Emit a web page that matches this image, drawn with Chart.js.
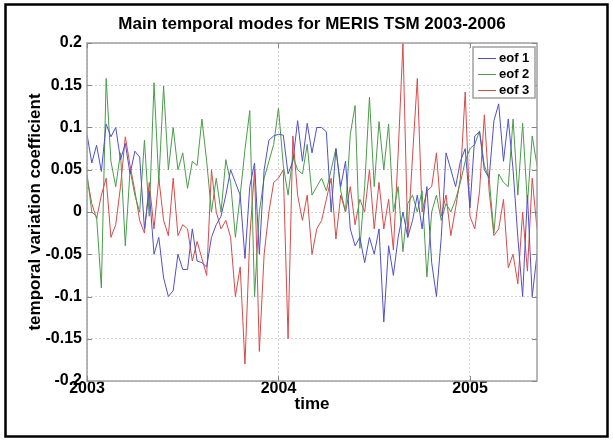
<!DOCTYPE html>
<html>
<head>
<meta charset="utf-8">
<script src="https://cdn.jsdelivr.net/npm/chart.js@4.4.0/dist/chart.umd.min.js"></script>
<style>
  html, body { margin: 0; padding: 0; background: #fff; }
  canvas { display: block; }
</style>
</head>
<body>
<canvas id="eof-chart" width="613" height="441"></canvas>
<script>
// time axis in decimal years
const timeYears = [
  2003.000, 2003.025, 2003.050, 2003.075, 2003.100, 2003.125, 2003.150, 2003.175, 2003.200, 2003.225,
  2003.250, 2003.275, 2003.300, 2003.325, 2003.350, 2003.375, 2003.400, 2003.425, 2003.450, 2003.475,
  2003.500, 2003.525, 2003.550, 2003.575, 2003.600, 2003.625, 2003.650, 2003.675, 2003.700, 2003.725,
  2003.750, 2003.775, 2003.800, 2003.825, 2003.850, 2003.875, 2003.900, 2003.925, 2003.950, 2003.975,
  2004.000, 2004.025, 2004.050, 2004.075, 2004.100, 2004.125, 2004.150, 2004.175, 2004.200, 2004.225,
  2004.250, 2004.275, 2004.300, 2004.325, 2004.350, 2004.375, 2004.400, 2004.425, 2004.450, 2004.475,
  2004.500, 2004.525, 2004.550, 2004.575, 2004.600, 2004.625, 2004.650, 2004.675, 2004.700, 2004.725,
  2004.750, 2004.775, 2004.800, 2004.825, 2004.850, 2004.875, 2004.900, 2004.925, 2004.950, 2004.975,
  2005.000, 2005.025, 2005.050, 2005.075, 2005.100, 2005.125, 2005.150, 2005.175, 2005.200, 2005.225,
  2005.250, 2005.275, 2005.300, 2005.325, 2005.350
];

const eof1 = [
  0.092, 0.058, 0.079, 0.048, 0.104, 0.089, 0.1, 0.062, 0.081, 0.045, 0.072, 0.065,
  -0.02, 0.025, -0.05, -0.03, -0.078, -0.1, -0.093, -0.05, -0.068, -0.068, -0.02, -0.058,
  -0.06, -0.065, -0.03, -0.015, -0.005, 0.02, 0.05, 0.035, 0.02, -0.055, 0.03, 0.058,
  -0.05, 0.05, 0.085, 0.09, 0.092, 0.091, 0.045, 0.06, 0.108, 0.06, 0.105, 0.07, 0.1,
  0.1, 0.095, 0.0, 0.075, 0.03, 0.06, -0.02, -0.04, -0.03, -0.06, -0.03, -0.05,
  -0.02, -0.13, -0.04, -0.075, -0.03, 0.0, -0.03, -0.01, 0.02, -0.02, 0.03, -0.06,
  -0.1, -0.03, 0.07, 0.05, 0.03, 0.06, 0.075, 0.005, 0.09, 0.095, 0.05, 0.04,
  0.108, 0.128, 0.06, 0.11, 0.05, -0.03, -0.1, 0.02, -0.1, -0.05
];

const eof2 = [
  0.045, 0.0, -0.005, -0.09, 0.158, 0.06, 0.03, 0.07, -0.04, 0.05, 0.02, 0.0,
  0.085, -0.005, 0.153, 0.035, 0.149, 0.05, 0.1, 0.05, 0.07, 0.028, 0.06, 0.055,
  0.11, 0.06, 0.0, 0.04, 0.0, 0.062, 0.035, -0.03, 0.02, 0.074, 0.12, -0.1,
  0.0, 0.04, 0.06, 0.08, 0.123, 0.055, 0.02, 0.066, 0.05, 0.045, 0.08, 0.02, 0.03,
  0.04, 0.025, 0.05, 0.075, 0.025, 0.0, 0.092, 0.126, -0.043, 0.03, 0.136, 0.03,
  0.107, 0.05, 0.104, 0.0, 0.03, -0.047, 0.01, 0.02, 0.0, 0.025, -0.077, 0.0,
  0.02, -0.01, 0.01, 0.0, 0.015, 0.035, 0.06, 0.075, 0.08, 0.096, 0.055, 0.04,
  -0.025, 0.045, 0.035, 0.03, 0.11, 0.02, 0.105, 0.01, 0.09, 0.055
];

const eof3 = [
  0.041, 0.01, -0.008, 0.02, 0.04, -0.03, -0.015, 0.03, 0.089, 0.055, 0.025, -0.01,
  -0.025, 0.035, -0.02, 0.04, -0.01, -0.028, 0.04, -0.028, -0.015, -0.02, -0.058, -0.035,
  -0.055, -0.075, 0.05, 0.0, -0.02, -0.01, -0.03, -0.1, -0.065, -0.18, -0.03, 0.05,
  -0.165, -0.05, 0.0, 0.035, 0.04, 0.05, -0.15, 0.09, 0.02, -0.01, 0.02, -0.05, -0.02,
  -0.01, 0.015, 0.04, -0.032, 0.02, 0.0, 0.03, -0.015, 0.015, 0.0, 0.05, -0.02,
  0.035, -0.02, 0.015, -0.045, 0.07, 0.2, -0.03, 0.066, 0.158, 0.0, 0.025, 0.03,
  0.07, -0.005, 0.02, -0.028, 0.005, 0.04, 0.142, -0.005, -0.02, 0.025, 0.115, 0.025,
  -0.028, -0.02, 0.015, -0.066, -0.05, -0.085, 0.0, -0.07, 0.04, -0.02
];

const seriesNames = ["eof 1", "eof 2", "eof 3"];
const seriesColors = ["rgb(80,80,200)", "rgb(75,155,75)", "rgb(215,75,75)"];
const xTickYears = [2003, 2004, 2005];
const yTickValues = [0.2, 0.15, 0.1, 0.05, 0, -0.05, -0.1, -0.15, -0.2];
const yTickLabels = ["0.2", "0.15", "0.1", "0.05", "0", "-0.05", "-0.1", "-0.15", "-0.2"];
const chartTitle = "Main temporal modes for MERIS TSM 2003-2006";

const FONT = "'Liberation Sans', Arial, Helvetica, sans-serif";
const boxGray = "#a0a0a0";

function toPoints(vals) {
  return vals.map((v, i) => ({ x: timeYears[i], y: v }));
}

// MATLAB-like axes box, inward ticks, title over the axes, legend and outer frame
const matlabBits = {
  id: "matlabBits",
  afterDatasetsDraw(chart) {
    const { ctx, chartArea: a, scales } = chart;
    ctx.save();
    ctx.strokeStyle = boxGray;
    ctx.lineWidth = 1.5;
    ctx.strokeRect(a.left, a.top, a.right - a.left, a.bottom - a.top);
    ctx.lineWidth = 1;
    ctx.strokeStyle = "#888";
    ctx.beginPath();
    xTickYears.forEach(v => {
      const px = Math.round(scales.x.getPixelForValue(v)) + 0.5;
      ctx.moveTo(px, a.bottom); ctx.lineTo(px, a.bottom - 5);
      ctx.moveTo(px, a.top); ctx.lineTo(px, a.top + 5);
    });
    yTickValues.forEach(v => {
      const py = Math.round(scales.y.getPixelForValue(v)) + 0.5;
      ctx.moveTo(a.left, py); ctx.lineTo(a.left + 5, py);
      ctx.moveTo(a.right, py); ctx.lineTo(a.right - 5, py);
    });
    ctx.stroke();
    ctx.restore();
  },
  afterDraw(chart) {
    const { ctx, chartArea: a } = chart;
    ctx.save();
    // title centred over the axes
    ctx.fillStyle = "#000";
    ctx.font = "bold 17px " + FONT;
    ctx.textAlign = "center";
    ctx.textBaseline = "middle";
    ctx.fillText(chartTitle, (a.left + a.right) / 2, 24);
    // legend
    const lx = 473, ly = 47, lw = 62, lh = 51;
    ctx.fillStyle = "#fff";
    ctx.fillRect(lx, ly, lw, lh);
    ctx.strokeStyle = boxGray;
    ctx.lineWidth = 1.5;
    ctx.strokeRect(lx, ly, lw, lh);
    ctx.font = "bold 13px " + FONT;
    ctx.textAlign = "left";
    ctx.fillStyle = "#000";
    chart.data.datasets.forEach((ds, i) => {
      const y = ly + 11 + i * 16;
      ctx.strokeStyle = ds.borderColor;
      ctx.lineWidth = 1;
      ctx.beginPath();
      ctx.moveTo(lx + 5, y + 0.5); ctx.lineTo(lx + 23, y + 0.5);
      ctx.stroke();
      ctx.fillText(ds.label, lx + 26, y);
    });
    // outer frame
    ctx.strokeStyle = "#000";
    ctx.lineWidth = 2.5;
    ctx.strokeRect(5.5, 4.5, 602, 432);
    ctx.restore();
  }
};

new Chart("eof-chart", {
  type: "line",
  data: {
    datasets: [eof1, eof2, eof3].map((vals, i) => ({
      label: seriesNames[i],
      data: toPoints(vals),
      borderColor: seriesColors[i],
      borderWidth: 1,
      pointRadius: 0,
      tension: 0,
      fill: false
    }))
  },
  options: {
    responsive: false,
    animation: false,
    layout: { padding: { left: 6, right: 76, top: 43, bottom: 26 } },
    plugins: {
      legend: { display: false },
      tooltip: { enabled: false },
      title: { display: false }
    },
    scales: {
      x: {
        type: "linear",
        min: 2003,
        max: 2005.35,
        afterBuildTicks: s => { s.ticks = xTickYears.map(v => ({ value: v })); },
        afterFit: s => { s.height = 34; },
        grid: { color: "#d4d4d4", drawTicks: false },
        border: { display: false, dash: [2, 2] },
        ticks: {
          padding: -2,
          color: "#000",
          font: { family: FONT, size: 16, weight: "bold" },
          callback: v => String(v)
        },
        title: {
          display: true,
          text: "time",
          color: "#000",
          font: { family: FONT, size: 17, weight: "bold" },
          padding: { top: 0, bottom: 0 }
        }
      },
      y: {
        min: -0.2,
        max: 0.2,
        afterBuildTicks: s => { s.ticks = yTickValues.map(v => ({ value: v })); },
        afterFit: s => { s.width = 81; },
        grid: { color: "#d4d4d4", drawTicks: false },
        border: { display: false, dash: [2, 2] },
        ticks: {
          padding: 5,
          color: "#000",
          autoSkip: false,
          font: { family: FONT, size: 16, weight: "bold" },
          callback: (v, i) => yTickLabels[i]
        },
        title: {
          display: true,
          text: "temporal variation coefficient",
          color: "#000",
          font: { family: FONT, size: 17, weight: "bold" },
          padding: { top: 19, bottom: 0 }
        }
      }
    }
  },
  plugins: [matlabBits]
});
</script>
</body>
</html>
